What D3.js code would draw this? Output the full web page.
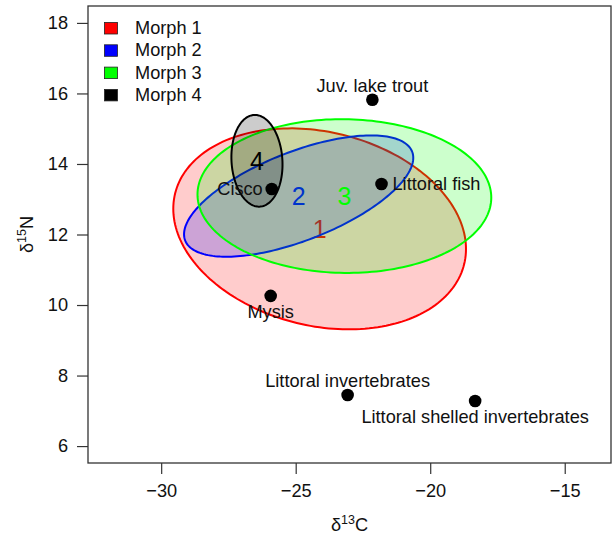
<!DOCTYPE html>
<html>
<head>
<meta charset="utf-8">
<script src="https://cdn.jsdelivr.net/npm/d3@7"></script>
<style>
  html, body { margin: 0; padding: 0; background: #fff; }
  svg { display: block; font-family: "Liberation Sans", Arial, Helvetica, sans-serif; }
</style>
</head>
<body>
<svg id="chart" width="614" height="536"></svg>
<script>
// ---------------- data ----------------
const morphs      = ["Morph 1", "Morph 2", "Morph 3", "Morph 4"];
const morphLabels = ["1", "2", "3", "4"];
const morphColors = ["#ff0000", "#0000ff", "#00ff00", "#000000"];
// standard-ellipse parameters (data units): centre, SD in x, SD in y, correlation
const ellCx  = [-24.11, -24.89, -23.19, -26.44];
const ellCy  = [ 12.16,  13.09,  13.09,  14.09];
const ellSx  = [  5.44,   4.26,   5.46,   0.95];
const ellSy  = [  2.85,   1.72,   2.18,   1.30];
const ellRho = [ -0.20,   0.63,  -0.02,  -0.08];

const sources   = ["Juv. lake trout", "Cisco", "Littoral fish", "Mysis", "Littoral invertebrates", "Littoral shelled invertebrates"];
const sourceC13 = [-22.15, -25.89, -21.81, -25.93, -23.07, -18.33];
const sourceN15 = [ 15.82,  13.29,  13.43,  10.26,   7.45,   7.28];
const sourcePos = ["above", "left", "right", "below", "above", "below"];

const xTicks = [-30, -25, -20, -15];
const yTicks = [6, 8, 10, 12, 14, 16, 18];
const xLim = [-32, -14];
const yLim = [6, 18];

// ---------------- layout ----------------
const svg = d3.select("#chart");
const plot = {left: 88, right: 611, top: 6, bottom: 463};
const ext = (l) => { const d = (l[1] - l[0]) * 0.04; return [l[0] - d, l[1] + d]; };
const x = d3.scaleLinear().domain(ext(xLim)).range([plot.left, plot.right]);
const y = d3.scaleLinear().domain(ext(yLim)).range([plot.bottom, plot.top]);
const FONT = 18.2;
const minus = s => String(s).replace("-", "\u2212");

// ---------------- axes ----------------
const xAxis = svg.append("g").attr("transform", `translate(0,${plot.bottom})`)
  .call(d3.axisBottom(x).tickValues(xTicks).tickSize(11).tickPadding(6).tickFormat(minus));
const yAxis = svg.append("g").attr("transform", `translate(${plot.left},0)`)
  .call(d3.axisLeft(y).tickValues(yTicks).tickSize(11).tickPadding(9).tickFormat(minus));
[xAxis, yAxis].forEach(g => {
  g.select(".domain").remove();
  g.selectAll("line").attr("stroke", "#333").attr("stroke-width", 1.2);
  g.selectAll("text").attr("font-size", FONT).attr("fill", "#111")
    .attr("font-family", "'Liberation Sans', Arial, sans-serif");
});
xAxis.selectAll("text").attr("dy", "0.95em");

// ---------------- ellipses ----------------
const line = d3.line().x(d => x(d[0])).y(d => y(d[1]));
const N = 200;
morphs.forEach((m, i) => {
  const pts = d3.range(N + 1).map(k => {
    const t = 2 * Math.PI * k / N;
    const dx = ellSx[i] * Math.cos(t);
    const dy = ellSy[i] * (ellRho[i] * Math.cos(t) + Math.sqrt(1 - ellRho[i] * ellRho[i]) * Math.sin(t));
    return [ellCx[i] + dx, ellCy[i] + dy];
  });
  svg.append("path").attr("d", line(pts) + "Z")
    .attr("fill", morphColors[i]).attr("fill-opacity", 0.2)
    .attr("stroke", morphColors[i]).attr("stroke-width", 2);
  svg.append("text")
    .attr("x", x(ellCx[i])).attr("y", y(ellCy[i]))
    .attr("text-anchor", "middle").attr("dominant-baseline", "central")
    .attr("font-size", 25).attr("fill", morphColors[i])
    .text(morphLabels[i]);
});

// ---------------- food sources ----------------
sources.forEach((s, i) => {
  const cx = x(sourceC13[i]), cy = y(sourceN15[i]);
  svg.append("circle").attr("cx", cx).attr("cy", cy).attr("r", 6.3).attr("fill", "#000");
  const t = svg.append("text").attr("font-size", FONT).attr("fill", "#111")
    .attr("dominant-baseline", "central").text(s);
  const p = sourcePos[i];
  if (p === "above") t.attr("x", cx).attr("y", cy - 14).attr("text-anchor", "middle");
  if (p === "below") t.attr("x", cx).attr("y", cy + 16).attr("text-anchor", "middle");
  if (p === "left")  t.attr("x", cx - 9).attr("y", cy).attr("text-anchor", "end");
  if (p === "right") t.attr("x", cx + 11).attr("y", cy).attr("text-anchor", "start");
});

// ---------------- box ----------------
svg.append("rect")
  .attr("x", plot.left).attr("y", plot.top)
  .attr("width", plot.right - plot.left).attr("height", plot.bottom - plot.top)
  .attr("fill", "none").attr("stroke", "#333").attr("stroke-width", 1.3);

// ---------------- legend ----------------
const lg = svg.append("g");
morphs.forEach((m, i) => {
  const cy = 28 + i * 22.3;
  lg.append("rect").attr("x", 104.5).attr("y", cy - 5.5).attr("width", 13).attr("height", 11.5)
    .attr("fill", morphColors[i]).attr("stroke", "#222").attr("stroke-width", 0.8);
  lg.append("text").attr("x", 135).attr("y", cy).attr("dominant-baseline", "central")
    .attr("font-size", FONT).attr("fill", "#111").text(m);
});

// ---------------- axis titles ----------------
const xt = svg.append("text").attr("x", (plot.left + plot.right) / 2).attr("y", 531)
  .attr("text-anchor", "middle").attr("font-size", FONT).attr("fill", "#111");
xt.append("tspan").text("\u03b4");
xt.append("tspan").attr("font-size", 12.5).attr("dy", -7).text("13");
xt.append("tspan").attr("dy", 7).text("C");

const yt = svg.append("text")
  .attr("transform", `translate(33,${(plot.top + plot.bottom) / 2}) rotate(-90)`)
  .attr("text-anchor", "middle").attr("font-size", FONT).attr("fill", "#111");
yt.append("tspan").text("\u03b4");
yt.append("tspan").attr("font-size", 12.5).attr("dy", -7).text("15");
yt.append("tspan").attr("dy", 7).text("N");
</script>
</body>
</html>
